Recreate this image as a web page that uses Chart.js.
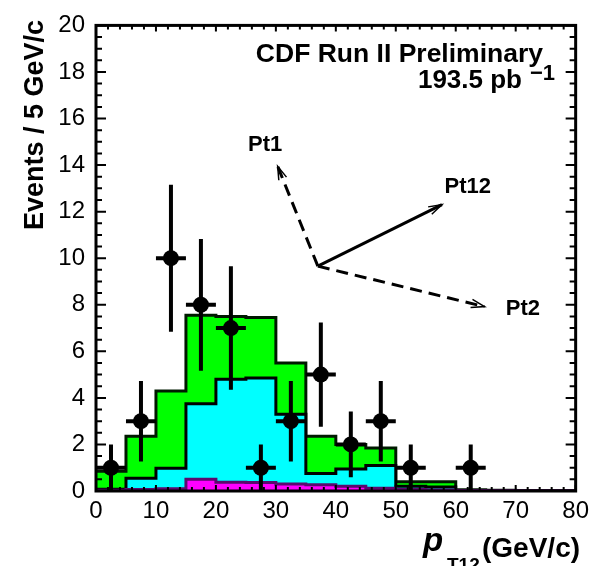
<!DOCTYPE html>
<html>
<head>
<meta charset="utf-8">
<script src="https://cdn.jsdelivr.net/npm/chart.js@4/dist/chart.umd.min.js"></script>
<style>
  html, body { margin: 0; padding: 0; background: #fff; }
  canvas { display: block; }
</style>
</head>
<body>
<canvas id="ptChart" width="595" height="566"></canvas>
<script>
// bin lower edges, 5 GeV/c wide
const binLow = [0, 5, 10, 15, 20, 25, 30, 35, 40, 45, 50, 55, 60, 65, 70, 75];
const binHigh = 80;

// stacked background templates (each entry already includes the ones below it)
const totalBkg = [0.85, 2.35, 4.3, 7.55, 7.5, 7.45, 5.5, 2.35, 2.0, 1.85, 0.4, 0.4, 0.05, 0.03, 0.02, 0.02];
const midBkg = [0.08, 0.55, 0.98, 3.75, 4.8, 4.85, 3.3, 0.75, 0.95, 1.1, 0.2, 0.17, 0.02, 0.01, 0.0, 0.0];
const lowBkg = [0.03, 0.06, 0.1, 0.5, 0.38, 0.36, 0.3, 0.27, 0.2, 0.12, 0.06, 0.04, 0.02, 0.01, 0.0, 0.0];

// data points
const dataX = [2.5, 7.5, 12.5, 17.5, 22.5, 27.5, 32.5, 37.5, 42.5, 47.5, 52.5, 62.5];
const dataY = [1, 3, 10, 8, 7, 1, 3, 5, 2, 3, 1, 1];
const dataErr = [1, 1.73, 3.16, 2.83, 2.65, 1, 1.73, 2.24, 1.41, 1.73, 1, 1];
const halfBin = 2.5;

const xTicks = [0, 10, 20, 30, 40, 50, 60, 70, 80];
const yTicks = [0, 2, 4, 6, 8, 10, 12, 14, 16, 18, 20];

const FONT = '"Liberation Sans", Arial, Helvetica, sans-serif';

function histPoints(values) {
    const pts = binLow.map((x, i) => ({ x: x, y: values[i] }));
    pts.push({ x: binHigh, y: values[values.length - 1] });
    return pts;
}

function histDataset(values, fill, line) {
    return {
        data: histPoints(values),
        stepped: 'before',
        fill: 'origin',
        backgroundColor: fill,
        borderColor: line,
        borderWidth: 3,
        pointRadius: 0,
        tension: 0
    };
}

// error bars on the data points
const errorBars = {
    id: 'errorBars',
    afterDatasetsDraw(chart) {
        const ctx = chart.ctx;
        const xs = chart.scales.x, ys = chart.scales.y;
        ctx.save();
        ctx.strokeStyle = '#000';
        ctx.lineWidth = 4;
        dataX.forEach((x, i) => {
            const px = xs.getPixelForValue(x);
            const py = ys.getPixelForValue(dataY[i]);
            ctx.beginPath();
            ctx.moveTo(px, ys.getPixelForValue(Math.max(0, dataY[i] - dataErr[i])));
            ctx.lineTo(px, ys.getPixelForValue(dataY[i] + dataErr[i]));
            ctx.moveTo(xs.getPixelForValue(x - halfBin), py);
            ctx.lineTo(xs.getPixelForValue(x + halfBin), py);
            ctx.stroke();
        });
        ctx.restore();
    }
};

function arrow(ctx, xs, ys, from, to, dashed) {
    const x0 = xs.getPixelForValue(from[0]), y0 = ys.getPixelForValue(from[1]);
    const x1 = xs.getPixelForValue(to[0]), y1 = ys.getPixelForValue(to[1]);
    ctx.save();
    ctx.strokeStyle = '#000';
    ctx.lineWidth = 3;
    ctx.setLineDash(dashed ? [12, 7] : []);
    ctx.beginPath();
    ctx.moveTo(x0, y0);
    ctx.lineTo(x1, y1);
    ctx.stroke();
    // open arrow head
    const a = Math.atan2(y1 - y0, x1 - x0);
    const len = 14, spread = 0.3;
    ctx.setLineDash([]);
    ctx.lineWidth = 1.5;
    ctx.beginPath();
    ctx.moveTo(x1 - len * Math.cos(a - spread), y1 - len * Math.sin(a - spread));
    ctx.lineTo(x1, y1);
    ctx.lineTo(x1 - len * Math.cos(a + spread), y1 - len * Math.sin(a + spread));
    ctx.stroke();
    ctx.restore();
}

// frame, inward ticks, titles and the pT vector sketch
const decorations = {
    id: 'decorations',
    afterDraw(chart) {
        const ctx = chart.ctx;
        const xs = chart.scales.x, ys = chart.scales.y;
        const a = chart.chartArea;

        ctx.save();
        ctx.strokeStyle = '#000';
        ctx.lineWidth = 2;
        ctx.beginPath();
        for (let v = 0; v <= 20.001; v += 0.5) {
            const py = ys.getPixelForValue(v);
            const len = (Math.abs(v % 2) < 1e-6) ? 10 : 6;
            ctx.moveTo(a.left, py); ctx.lineTo(a.left + len, py);
            ctx.moveTo(a.right, py); ctx.lineTo(a.right - len, py);
        }
        for (let v = 0; v <= 80.001; v += 2) {
            const px = xs.getPixelForValue(v);
            const len = (Math.abs(v % 10) < 1e-6) ? 6 : 4;
            ctx.moveTo(px, a.top); ctx.lineTo(px, a.top + len);
            ctx.moveTo(px, a.bottom); ctx.lineTo(px, a.bottom - len);
        }
        ctx.stroke();
        ctx.lineWidth = 3;
        ctx.strokeRect(a.left, a.top, a.right - a.left, a.bottom - a.top);

        // vector sketch
        const origin = [37.0, 9.66];
        arrow(ctx, xs, ys, origin, [30.3, 13.95], true);
        arrow(ctx, xs, ys, origin, [57.7, 12.3], false);
        arrow(ctx, xs, ys, origin, [64.8, 7.92], true);

        ctx.fillStyle = '#000';
        ctx.textAlign = 'center';
        ctx.textBaseline = 'middle';
        ctx.font = 'bold 22px ' + FONT;
        ctx.fillText('Pt1', xs.getPixelForValue(28.2), ys.getPixelForValue(14.85));
        ctx.fillText('Pt12', xs.getPixelForValue(62.0), ys.getPixelForValue(13.05));
        ctx.fillText('Pt2', xs.getPixelForValue(71.2), ys.getPixelForValue(7.8));

        // labels
        ctx.textBaseline = 'alphabetic';
        ctx.textAlign = 'right';
        ctx.font = 'bold 26.5px ' + FONT;
        ctx.fillText('CDF Run II Preliminary', 543, 62);
        ctx.font = 'bold 22px ' + FONT;
        ctx.fillText('\u22121', 555, 80);
        ctx.font = 'bold 26px ' + FONT;
        ctx.fillText('193.5 pb', 522, 88);

        // y title
        ctx.save();
        ctx.translate(43, 20);
        ctx.rotate(-Math.PI / 2);
        ctx.textAlign = 'right';
        ctx.font = 'bold 27px ' + FONT;
        ctx.fillText('Events / 5 GeV/c', 0, 0);
        ctx.restore();

        // x title
        ctx.textAlign = 'left';
        ctx.font = 'italic bold 33px ' + FONT;
        ctx.fillText('p', 423, 551);
        ctx.font = 'bold 19px ' + FONT;
        ctx.fillText('T12', 447, 571);
        ctx.font = 'bold 28px ' + FONT;
        ctx.fillText('(GeV/c)', 482, 557);
        ctx.restore();
    }
};

new Chart(document.getElementById('ptChart').getContext('2d'), {
    type: 'line',
    data: {
        datasets: [
            {
                data: dataX.map((x, i) => ({ x: x, y: dataY[i] })),
                showLine: false,
                pointRadius: 8,
                pointBackgroundColor: '#000',
                pointBorderWidth: 0
            },
            histDataset(lowBkg, '#ff00ff', '#5a0a6e'),
            histDataset(midBkg, '#00ffff', '#000'),
            histDataset(totalBkg, '#00ff00', '#001a00')
        ]
    },
    options: {
        responsive: false,
        animation: false,
        devicePixelRatio: 1,
        layout: { padding: { top: 19, right: 19, left: 0, bottom: 0 } },
        plugins: {
            legend: { display: false },
            tooltip: { enabled: false }
        },
        scales: {
            x: {
                type: 'linear',
                min: 0,
                max: 80,
                afterFit: s => { s.height = 75; },
                afterBuildTicks: s => { s.ticks = xTicks.map(v => ({ value: v })); },
                grid: { display: false, drawTicks: false },
                border: { display: false },
                ticks: { color: '#000', font: { size: 24, family: FONT }, padding: 6, maxRotation: 0 }
            },
            y: {
                type: 'linear',
                min: 0,
                max: 20,
                afterFit: s => { s.width = 96; },
                afterBuildTicks: s => { s.ticks = yTicks.map(v => ({ value: v })); },
                grid: { display: false, drawTicks: false },
                border: { display: false },
                ticks: { color: '#000', font: { size: 24, family: FONT }, padding: 11 }
            }
        }
    },
    plugins: [errorBars, decorations]
});
</script>
</body>
</html>
